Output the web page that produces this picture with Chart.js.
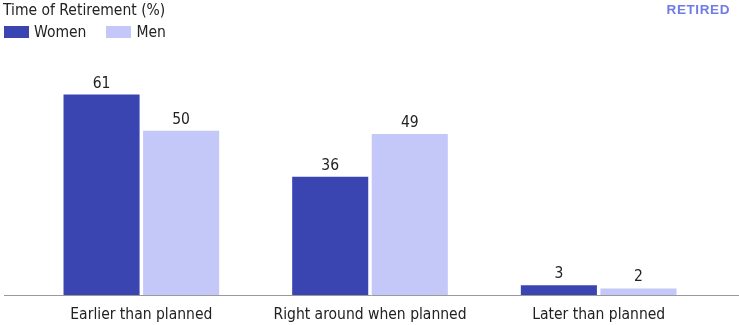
<!DOCTYPE html>
<html>
<head>
<meta charset="utf-8">
<script src="https://cdn.jsdelivr.net/npm/chart.js@4/dist/chart.umd.min.js"></script>
<style>
  html, body { margin: 0; padding: 0; background: #fff; }
  #wrap { position: relative; width: 739px; height: 325px; }
  #chart { position: absolute; left: 0; top: 0; }
  .title { position: absolute; left: 3px; top: 1px; font: 15.5px "DejaVu Sans Condensed", sans-serif; color: #222; }
  .tag { position: absolute; right: 9px; top: 2px; font: bold 13.5px "Liberation Sans", Arial, sans-serif; color: #6f7ce6; letter-spacing: 0.6px; }
  .legend { position: absolute; left: 4px; top: 23px; font: 15.5px "DejaVu Sans Condensed", sans-serif; color: #222; }
  .legend span.item { display: inline-block; margin-right: 20px; }
  .legend i { display: inline-block; width: 25px; height: 12px; margin-right: 5px; vertical-align: -1px; }
</style>
</head>
<body>
<div id="wrap">
  <canvas id="chart" width="739" height="325"></canvas>
  <div class="title">Time of Retirement (%)</div>
  <div class="tag">RETIRED</div>
  <div class="legend" id="legend"></div>
</div>
<script>
const categories = ["Earlier than planned", "Right around when planned", "Later than planned"];
const seriesNames = ["Women", "Men"];
const women = [61, 36, 3];
const men = [50, 49, 2];
const colors = ["#3b45b1", "#c4c8f8"];

const fontFamily = '"DejaVu Sans Condensed", sans-serif';
const labelFont = "15.5px " + fontFamily;

// legend boxes in html, colours shared with the datasets
const legend = document.getElementById("legend");
seriesNames.forEach((name, i) => {
  const item = document.createElement("span");
  item.className = "item";
  const box = document.createElement("i");
  box.style.background = colors[i];
  item.appendChild(box);
  item.appendChild(document.createTextNode(name));
  legend.appendChild(item);
});

// value above each bar
const valueLabels = {
  id: "valueLabels",
  afterDatasetsDraw(chart) {
    const ctx = chart.ctx;
    ctx.save();
    ctx.font = labelFont;
    ctx.fillStyle = "#222";
    ctx.textAlign = "center";
    ctx.textBaseline = "alphabetic";
    chart.data.datasets.forEach((ds, di) => {
      chart.getDatasetMeta(di).data.forEach((bar, i) => {
        ctx.fillText(ds.data[i], bar.x, bar.y - 7);
      });
    });
    ctx.restore();
  }
};

// baseline running the full width
const baseLine = {
  id: "baseLine",
  afterDatasetsDraw(chart) {
    const ctx = chart.ctx;
    const y = Math.round(chart.chartArea.bottom) + 0.5;
    ctx.save();
    ctx.strokeStyle = "#9a9a9a";
    ctx.lineWidth = 1;
    ctx.beginPath();
    ctx.moveTo(4, y);
    ctx.lineTo(chart.width, y);
    ctx.stroke();
    ctx.restore();
  }
};

new Chart(document.getElementById("chart"), {
  type: "bar",
  data: {
    labels: categories,
    datasets: [
      { label: seriesNames[0], data: women, backgroundColor: colors[0] },
      { label: seriesNames[1], data: men, backgroundColor: colors[1] }
    ]
  },
  options: {
    responsive: false,
    animation: false,
    events: [],
    categoryPercentage: 0.696,
    barPercentage: 0.956,
    layout: { padding: { left: 27, right: 26, top: 65, bottom: 0 } },
    scales: {
      x: {
        grid: { display: false, drawTicks: false },
        border: { display: false },
        ticks: { color: "#222", font: { family: fontFamily, size: 15.5 }, padding: 11, maxRotation: 0 },
        afterFit(scale) { scale.height = 30; }
      },
      y: {
        display: false,
        min: 0,
        max: 70
      }
    },
    plugins: {
      legend: { display: false },
      tooltip: { enabled: false }
    }
  },
  plugins: [valueLabels, baseLine]
});
</script>
</body>
</html>
